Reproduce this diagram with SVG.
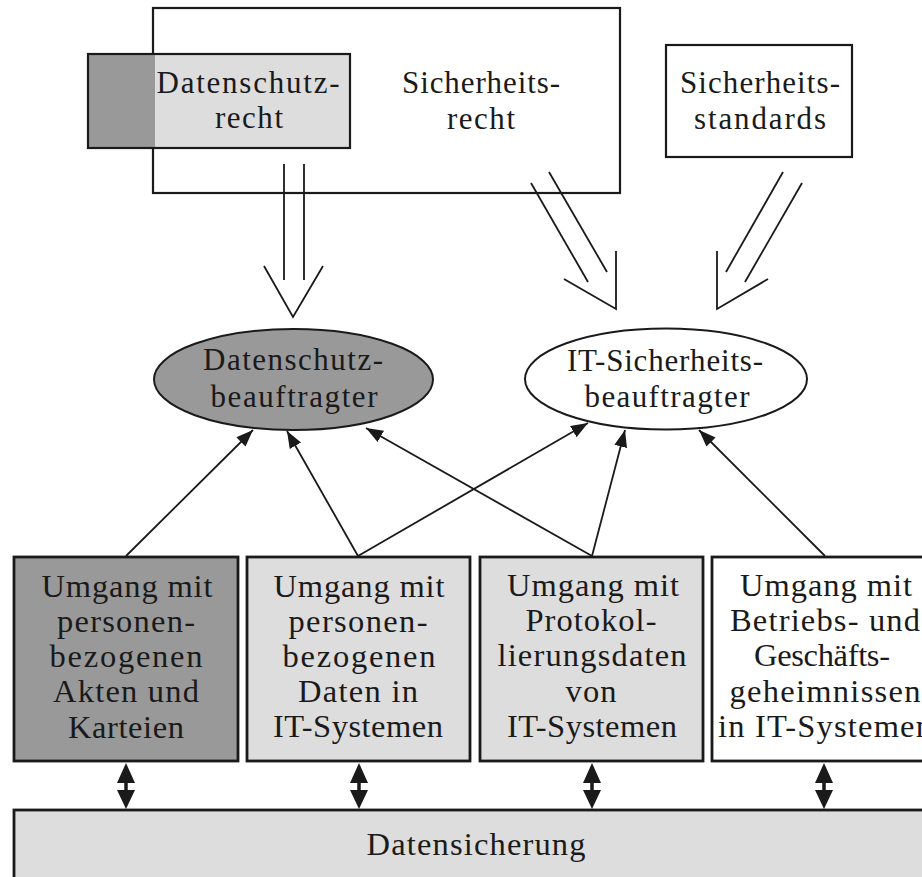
<svg xmlns="http://www.w3.org/2000/svg" width="922" height="877" viewBox="0 0 922 877">
<defs>
<style>
text{font-family:"Liberation Serif","DejaVu Serif",serif;fill:#1a1a1a;text-anchor:middle}
.t30{font-size:31px}
.t31{font-size:32.5px}
.frame{fill:#fff;stroke:#1a1a1a;stroke-width:2.2}
.box{stroke:#1a1a1a;stroke-width:2.8}
.dark{fill:#999}
.light{fill:#ddd}
.white{fill:#fff}
.ln{stroke:#1a1a1a;stroke-width:1.8;fill:none}
.arr{stroke:#1a1a1a;stroke-width:1.8;fill:none;marker-end:url(#ah)}
.dbl{stroke:#1a1a1a;stroke-width:3.5}
.head{fill:#1a1a1a}
</style>
<marker id="ah" markerUnits="userSpaceOnUse" markerWidth="18" markerHeight="14" refX="17" refY="6.5" orient="auto">
<path d="M0,0 L17,6.5 L0,13 z" fill="#1a1a1a"/>
</marker>
</defs>
<rect width="922" height="877" fill="#fff"/>

<g id="sicherheitsrecht">
<rect class="frame" x="153" y="8" width="467" height="185"/>
<text class="t30" x="481" y="93" textLength="158" lengthAdjust="spacing">Sicherheits-</text>
<text class="t30" x="481" y="129" textLength="68" lengthAdjust="spacing">recht</text>
</g>

<g id="datenschutzrecht">
<rect x="88" y="54" width="67" height="94" class="dark"/>
<rect x="155" y="54" width="195" height="94" class="light"/>
<rect x="88" y="54" width="262" height="94" fill="none" stroke="#1a1a1a" stroke-width="2.2"/>
<text class="t30" x="248" y="93" textLength="183" lengthAdjust="spacing">Datenschutz-</text>
<text class="t30" x="249" y="128" textLength="68" lengthAdjust="spacing">recht</text>
</g>

<g id="sicherheitsstandards">
<rect class="frame" x="666" y="45" width="186" height="112"/>
<text class="t30" x="760" y="93" textLength="160" lengthAdjust="spacing">Sicherheits-</text>
<text class="t30" x="760" y="129" textLength="132" lengthAdjust="spacing">standards</text>
</g>

<g id="datenschutzbeauftragter">
<ellipse cx="293.5" cy="379.5" rx="139.5" ry="50.5" class="dark" stroke="#1a1a1a" stroke-width="2"/>
<text class="t30" x="293" y="370" textLength="180" lengthAdjust="spacing">Datenschutz-</text>
<text class="t30" x="294" y="407" textLength="167" lengthAdjust="spacing">beauftragter</text>
</g>

<g id="itsicherheitsbeauftragter">
<ellipse cx="666" cy="379" rx="141" ry="50.5" class="white" stroke="#1a1a1a" stroke-width="2"/>
<text class="t30" x="665" y="371" textLength="196" lengthAdjust="spacing">IT-Sicherheits-</text>
<text class="t30" x="667" y="407" textLength="165" lengthAdjust="spacing">beauftragter</text>
</g>

<g id="akten">
<rect class="box dark" x="14" y="557" width="224" height="204"/>
<text class="t31" x="127" y="597" textLength="171" lengthAdjust="spacing">Umgang mit</text>
<text class="t31" x="126" y="632" textLength="138" lengthAdjust="spacing">personen-</text>
<text class="t31" x="126" y="667" textLength="153" lengthAdjust="spacing">bezogenen</text>
<text class="t31" x="126" y="702" textLength="146" lengthAdjust="spacing">Akten und</text>
<text class="t31" x="126" y="738" textLength="116" lengthAdjust="spacing">Karteien</text>
</g>

<g id="personendaten">
<rect class="box light" x="247" y="557" width="223" height="204"/>
<text class="t31" x="359" y="597" textLength="171" lengthAdjust="spacing">Umgang mit</text>
<text class="t31" x="358" y="632" textLength="139" lengthAdjust="spacing">personen-</text>
<text class="t31" x="359" y="667" textLength="153" lengthAdjust="spacing">bezogenen</text>
<text class="t31" x="358" y="702" textLength="120" lengthAdjust="spacing">Daten in</text>
<text class="t31" x="358" y="737" textLength="170" lengthAdjust="spacing">IT-Systemen</text>
</g>

<g id="protokolldaten">
<rect class="box light" x="480" y="557" width="223" height="204"/>
<text class="t31" x="593" y="596" textLength="172" lengthAdjust="spacing">Umgang mit</text>
<text class="t31" x="591" y="631" textLength="131" lengthAdjust="spacing">Protokol-</text>
<text class="t31" x="592" y="666" textLength="189" lengthAdjust="spacing">lierungsdaten</text>
<text class="t31" x="591" y="702" textLength="51" lengthAdjust="spacing">von</text>
<text class="t31" x="592" y="737" textLength="170" lengthAdjust="spacing">IT-Systemen</text>
</g>

<g id="geheimnisse">
<rect class="box white" x="712" y="557" width="224" height="204"/>
<text class="t31" x="826" y="596" textLength="172" lengthAdjust="spacing">Umgang mit</text>
<text class="t31" x="825" y="631" textLength="190" lengthAdjust="spacing">Betriebs- und</text>
<text class="t31" x="822" y="666" textLength="136" lengthAdjust="spacing">Geschäfts-</text>
<text class="t31" x="825" y="702" textLength="191" lengthAdjust="spacing">geheimnissen</text>
<text class="t31" x="825" y="737" textLength="214" lengthAdjust="spacing">in IT-Systemen</text>
</g>

<g id="datensicherung">
<rect class="box light" x="14" y="810" width="930" height="80"/>
<text class="t31" x="476" y="855" textLength="219" lengthAdjust="spacing">Datensicherung</text>
</g>

<g id="connectors">
<line class="ln" x1="284" y1="164" x2="284" y2="280"/>
<line class="ln" x1="304" y1="164" x2="304" y2="280"/>
<polyline class="ln" points="264,266 293,317 323,266"/>
<line class="ln" x1="531" y1="183" x2="588" y2="282"/>
<line class="ln" x1="549" y1="172" x2="607" y2="272"/>
<polyline class="ln" points="564,279 616,309 616,251"/>
<line class="ln" x1="783" y1="172" x2="726" y2="272"/>
<line class="ln" x1="802" y1="183" x2="745" y2="282"/>
<polyline class="ln" points="717,251 717,309 768,279"/>

<line class="arr" x1="126" y1="556" x2="253" y2="430"/>
<line class="arr" x1="358" y1="556" x2="287" y2="431"/>
<line class="arr" x1="592" y1="556" x2="366" y2="428"/>
<line class="arr" x1="358" y1="556" x2="588" y2="423"/>
<line class="arr" x1="592" y1="556" x2="625" y2="430"/>
<line class="arr" x1="825" y1="556" x2="699" y2="430"/>

<g>
<line class="dbl" x1="126" y1="775" x2="126" y2="798"/>
<polygon class="head" points="126,763 135,783 117,783"/>
<polygon class="head" points="126,809 135,790 117,790"/>
</g>
<g>
<line class="dbl" x1="359" y1="775" x2="359" y2="798"/>
<polygon class="head" points="359,763 368,783 350,783"/>
<polygon class="head" points="359,809 368,790 350,790"/>
</g>
<g>
<line class="dbl" x1="592" y1="775" x2="592" y2="798"/>
<polygon class="head" points="592,763 601,783 583,783"/>
<polygon class="head" points="592,809 601,790 583,790"/>
</g>
<g>
<line class="dbl" x1="824" y1="775" x2="824" y2="798"/>
<polygon class="head" points="824,763 833,783 815,783"/>
<polygon class="head" points="824,809 833,790 815,790"/>
</g>
</g>
</svg>
